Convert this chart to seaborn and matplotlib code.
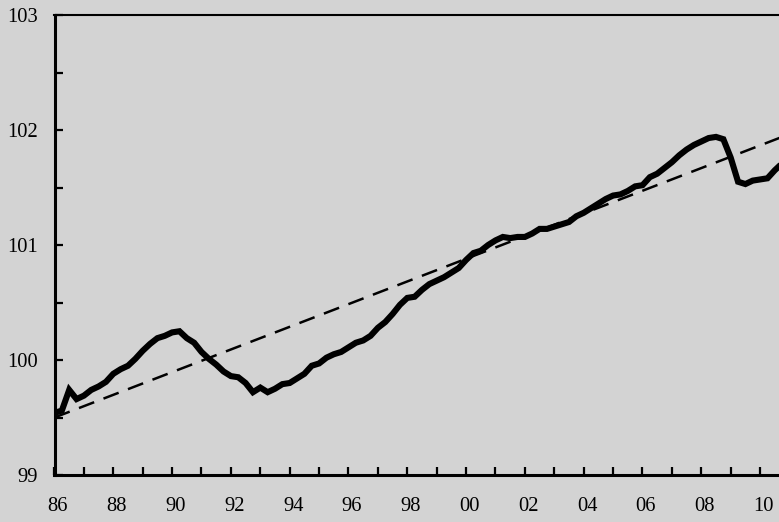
import numpy as np
import matplotlib
matplotlib.use("Agg")
import matplotlib.pyplot as plt
import matplotlib.transforms as mtransforms
from matplotlib.ticker import MultipleLocator, FixedLocator, FixedFormatter
import seaborn as sns

# quarterly series starting 1986Q1
start_year = 1986
series_values = [
    99.54, 99.56, 99.74, 99.66, 99.69, 99.74, 99.77, 99.81, 99.88, 99.92,
    99.95, 100.01, 100.08, 100.14, 100.19, 100.21, 100.24, 100.25, 100.19, 100.15,
    100.07, 100.01, 99.96, 99.90, 99.86, 99.85, 99.80, 99.72, 99.76, 99.72,
    99.75, 99.79, 99.80, 99.84, 99.88, 99.95, 99.97, 100.02, 100.05, 100.07,
    100.11, 100.15, 100.17, 100.21, 100.28, 100.33, 100.40, 100.48, 100.54, 100.55,
    100.61, 100.66, 100.69, 100.72, 100.76, 100.80, 100.87, 100.93, 100.95, 101.00,
    101.04, 101.07, 101.06, 101.07, 101.07, 101.10, 101.14, 101.14, 101.16, 101.18,
    101.20, 101.25, 101.28, 101.32, 101.36, 101.40, 101.43, 101.44, 101.47, 101.51,
    101.52, 101.59, 101.62, 101.67, 101.72, 101.78, 101.83, 101.87, 101.90, 101.93,
    101.94, 101.92, 101.76, 101.55, 101.53, 101.56, 101.57, 101.58, 101.65, 101.71,
]
# linear trend (dashed) endpoints
trend_years = [1986.0, 2010.75]
trend_values = [99.50, 101.94]

year_ticks = list(range(1986, 2011))
year_labels = [f"{y % 100:02d}" if y % 2 == 0 else "" for y in year_ticks]
y_ticks = [99, 100, 101, 102, 103]

years = start_year + np.arange(len(series_values)) / 4

bg = "#d3d3d3"
sns.set_style("white")
plt.rcParams['font.family'] = ['Liberation Serif', 'DejaVu Serif']

fig = plt.figure(figsize=(7.79, 5.22), dpi=100, facecolor=bg)
ax = fig.add_axes([54.5 / 779, 47 / 522, 1 - 54.5 / 779, 460 / 522])
ax.set_facecolor(bg)

sns.lineplot(x=years, y=series_values, ax=ax, color="black", lw=4.4,
             solid_joinstyle="miter", zorder=3)
sns.lineplot(x=trend_years, y=trend_values, ax=ax, color="black", lw=1.8,
             zorder=2, dashes=False, linestyle=(0, (6.5, 4)))

ax.set_xlim(1986, 1986 + 724.5 / 29.4)
ax.set_ylim(99, 103)

ax.xaxis.set_major_locator(FixedLocator(year_ticks))
ax.xaxis.set_major_formatter(FixedFormatter(year_labels))
ax.yaxis.set_major_locator(FixedLocator(y_ticks))
ax.yaxis.set_minor_locator(MultipleLocator(0.5))

ax.tick_params(axis="x", direction="in", length=6, width=1.6, labelsize=14.8,
               pad=16, bottom=True, top=False, colors="black")
ax.tick_params(axis="y", which="both", direction="in", length=6, width=1.6,
               labelsize=14.8, pad=12, left=True, right=False, colors="black")

offset = mtransforms.ScaledTranslation(3.5 / 100, 0, fig.dpi_scale_trans)
for lab in ax.get_xticklabels():
    lab.set_transform(lab.get_transform() + offset)

for side in ["left", "bottom"]:
    ax.spines[side].set_linewidth(2.2)
    ax.spines[side].set_color("black")
ax.spines["top"].set_linewidth(1.5)
ax.spines["top"].set_color("black")
ax.spines["right"].set_visible(False)
ax.grid(False)
ax.set_xlabel("")
ax.set_ylabel("")

fig.savefig("out.png", dpi=100, facecolor=bg)
